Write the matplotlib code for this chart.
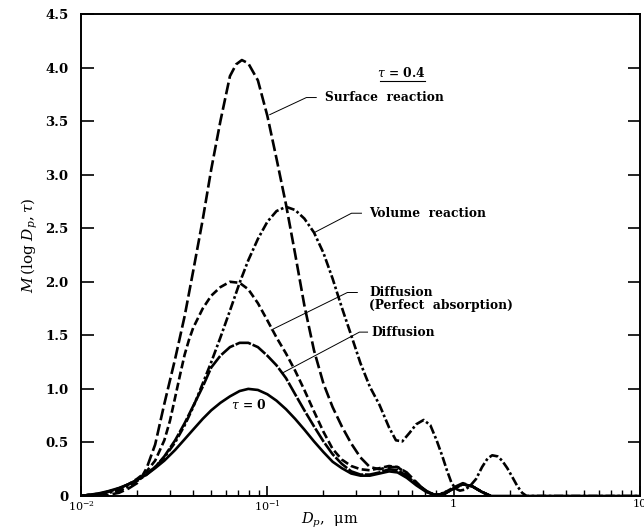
import matplotlib
matplotlib.use("Agg")
import matplotlib.pyplot as plt
from matplotlib.ticker import FixedLocator, NullFormatter

# ---------------- data ----------------
tau0_dp = [0.010, 0.011, 0.0125, 0.014, 0.016, 0.018, 0.020, 0.0225, 0.025, 0.028,
           0.032, 0.036, 0.040, 0.045, 0.050, 0.056, 0.063, 0.071, 0.079, 0.089,
           0.100, 0.112, 0.126, 0.141, 0.158, 0.178, 0.200, 0.224, 0.251, 0.282,
           0.316, 0.355, 0.40, 0.45, 0.50, 0.56, 0.63, 0.71, 0.79, 0.89,
           1.00, 1.12, 1.26, 1.41, 1.58, 10.0]
tau0_m = [0.00, 0.01, 0.025, 0.045, 0.075, 0.11, 0.15, 0.20, 0.26, 0.33,
          0.43, 0.53, 0.62, 0.72, 0.80, 0.87, 0.93, 0.98, 1.00, 0.99,
          0.95, 0.89, 0.81, 0.72, 0.62, 0.51, 0.41, 0.32, 0.26, 0.21,
          0.19, 0.19, 0.21, 0.23, 0.22, 0.17, 0.10, 0.04, 0.01, 0.02,
          0.07, 0.11, 0.09, 0.04, 0.00, 0.00]

diff_dp = [0.010, 0.011, 0.0125, 0.014, 0.016, 0.018, 0.020, 0.0225, 0.025, 0.028,
           0.032, 0.036, 0.040, 0.045, 0.050, 0.056, 0.063, 0.071, 0.079, 0.089,
           0.100, 0.112, 0.126, 0.141, 0.158, 0.178, 0.200, 0.224, 0.251, 0.282,
           0.316, 0.355, 0.40, 0.45, 0.50, 0.56, 0.63, 0.71, 0.79, 0.89,
           1.00, 1.12, 1.26, 1.41, 1.58]
diff_m = [0.00, 0.01, 0.02, 0.04, 0.07, 0.11, 0.15, 0.21, 0.27, 0.37,
          0.52, 0.68, 0.84, 1.02, 1.20, 1.31, 1.39, 1.43, 1.43, 1.39,
          1.31, 1.22, 1.10, 0.95, 0.80, 0.65, 0.51, 0.39, 0.30, 0.23,
          0.20, 0.20, 0.22, 0.25, 0.24, 0.19, 0.11, 0.05, 0.01, 0.02,
          0.07, 0.11, 0.09, 0.04, 0.00]

pa_dp = [0.010, 0.011, 0.0125, 0.014, 0.016, 0.018, 0.020, 0.0225, 0.025, 0.028,
         0.030, 0.032, 0.034, 0.036, 0.038, 0.040, 0.045, 0.050, 0.056, 0.063,
         0.071, 0.079, 0.089, 0.100, 0.112, 0.126, 0.141, 0.158, 0.178, 0.200,
         0.224, 0.251, 0.282, 0.316, 0.355, 0.40, 0.45, 0.50, 0.56, 0.63,
         0.71, 0.79, 0.89, 1.00, 1.12, 1.26, 1.41, 1.58]
pa_m = [0.00, 0.01, 0.02, 0.04, 0.07, 0.11, 0.16, 0.23, 0.33, 0.52,
        0.70, 0.92, 1.13, 1.32, 1.46, 1.57, 1.75, 1.87, 1.95, 2.00,
        1.99, 1.93, 1.80, 1.64, 1.48, 1.33, 1.17, 0.99, 0.79, 0.60,
        0.44, 0.34, 0.28, 0.25, 0.24, 0.26, 0.28, 0.27, 0.21, 0.12,
        0.05, 0.01, 0.02, 0.07, 0.11, 0.09, 0.04, 0.00]

surf_dp = [0.010, 0.012, 0.014, 0.016, 0.018, 0.020, 0.0212, 0.0225, 0.025, 0.028,
           0.032, 0.036, 0.040, 0.045, 0.050, 0.056, 0.063, 0.068, 0.073, 0.079,
           0.089, 0.100, 0.112, 0.126, 0.141, 0.158, 0.178, 0.200, 0.224, 0.251,
           0.282, 0.316, 0.355, 0.40, 0.45, 0.50, 0.56, 0.63, 0.71, 0.79,
           0.89, 1.00, 1.12, 1.26, 1.41, 1.58]
surf_m = [0.00, 0.00, 0.01, 0.03, 0.07, 0.12, 0.18, 0.26, 0.48, 0.86,
          1.28, 1.68, 2.10, 2.58, 3.05, 3.50, 3.92, 4.03, 4.07, 4.04,
          3.88, 3.55, 3.15, 2.72, 2.26, 1.78, 1.36, 1.05, 0.83, 0.65,
          0.49, 0.36, 0.27, 0.25, 0.27, 0.27, 0.22, 0.13, 0.04, 0.01,
          0.03, 0.08, 0.12, 0.09, 0.04, 0.00]

vol_dp = [0.010, 0.011, 0.0125, 0.014, 0.016, 0.018, 0.020, 0.0225, 0.025, 0.028,
          0.032, 0.036, 0.040, 0.045, 0.050, 0.056, 0.063, 0.071, 0.079, 0.089,
          0.100, 0.112, 0.126, 0.141, 0.158, 0.178, 0.200, 0.224, 0.251, 0.282,
          0.316, 0.355, 0.40, 0.45, 0.49, 0.53, 0.58, 0.63, 0.69, 0.75,
          0.81, 0.87, 0.92, 0.97, 1.02, 1.08, 1.15, 1.22, 1.32, 1.42,
          1.52, 1.61, 1.72, 1.82, 1.94, 2.06, 2.20, 2.33, 2.46, 10.0]
vol_m = [0.00, 0.01, 0.02, 0.03, 0.05, 0.09, 0.14, 0.20, 0.27, 0.36,
         0.50, 0.66, 0.83, 1.05, 1.25, 1.48, 1.73, 1.99, 2.20, 2.40,
         2.56, 2.66, 2.70, 2.67, 2.59, 2.46, 2.27, 2.03, 1.76, 1.50,
         1.24, 1.02, 0.85, 0.64, 0.52, 0.51, 0.59, 0.67, 0.71, 0.66,
         0.52, 0.37, 0.24, 0.13, 0.07, 0.05, 0.06, 0.09, 0.16, 0.27,
         0.35, 0.38, 0.37, 0.33, 0.26, 0.18, 0.09, 0.03, 0.00, 0.00]

y_ticks = [0, 0.5, 1.0, 1.5, 2.0, 2.5, 3.0, 3.5, 4.0, 4.5]
y_ticklabels = ["0", "0.5", "1.0", "1.5", "2.0", "2.5", "3.0", "3.5", "4.0", "4.5"]
x_ticks = [0.01, 0.1, 1, 10]
x_ticklabels = [r"$10^{-2}$", r"$10^{-1}$", "1", "10"]

# ---------------- figure ----------------
plt.rcParams["font.family"] = ["DejaVu Serif"]
plt.rcParams["mathtext.fontset"] = "dejavuserif"

fig = plt.figure(figsize=(6.44, 5.29), dpi=100)
ax = fig.add_axes([81 / 644, 1 - 496 / 529, (640 - 81) / 644, (496 - 14) / 529])

lw = 1.9
k = "black"
ax.plot(tau0_dp, tau0_m, color=k, lw=lw, solid_capstyle="round", solid_joinstyle="round")
ax.plot(diff_dp, diff_m, color=k, lw=lw, dashes=(6, 0.7))
ax.plot(pa_dp, pa_m, color=k, lw=lw, dashes=(3.0, 1.3))
ax.plot(surf_dp, surf_m, color=k, lw=lw, dashes=(4.5, 1.5))
ax.plot(vol_dp, vol_m, color=k, lw=lw, dashes=(3.5, 1.0, 1.0, 1.0))

ax.set_xscale("log")
ax.set_xlim(0.01, 10)
ax.set_ylim(0, 4.5)
ax.set_yticks(y_ticks)
ax.set_yticklabels(y_ticklabels)
ax.xaxis.set_major_locator(FixedLocator(x_ticks))
ax.set_xticklabels(x_ticklabels)
minors = [m * 10.0 ** e for e in (-2, -1, 0) for m in range(2, 10)]
ax.xaxis.set_minor_locator(FixedLocator(minors))
ax.xaxis.set_minor_formatter(NullFormatter())

ax.tick_params(axis="y", which="major", direction="in", length=9, width=1.2,
               right=True, labelsize=9.5, pad=9)
ax.tick_params(axis="x", which="major", direction="in", length=7, width=1.2,
               top=False, labelsize=8, pad=2)
ax.tick_params(axis="x", which="minor", direction="in", length=4, width=1.0, top=False)
for lab in ax.get_yticklabels():
    lab.set_fontweight("bold")
for s in ax.spines.values():
    s.set_linewidth(1.4)

ax.set_xlabel(r"$D_p$,  μm", fontsize=10.5)
ax.xaxis.set_label_coords((330 - 81) / 559, (496 - 520) / 482)
ax.xaxis.label.set_va("center")
ax.set_ylabel(r"$M\,(\log\,D_p,\tau)$", fontsize=11)
ax.yaxis.set_label_coords((30 - 81) / 559, 0.52)
ax.yaxis.label.set_va("center")

# ---------------- annotations ----------------
fs = 8.8
lead = dict(color=k, lw=0.7)
ax.text(0.524, 3.95, r"$\tau$ = 0.4", fontsize=fs, ha="center", va="center", weight="bold")
ax.plot([0.40, 0.70], [3.87, 3.87], color=k, lw=0.8)

ax.plot([0.103, 0.162, 0.183], [3.56, 3.72, 3.72], **lead)
ax.text(0.203, 3.72, "Surface  reaction", fontsize=fs, weight="bold", va="center")

ax.plot([0.179, 0.283, 0.32], [2.46, 2.64, 2.64], **lead)
ax.text(0.353, 2.64, "Volume  reaction", fontsize=fs, weight="bold", va="center")

ax.plot([0.105, 0.269, 0.304], [1.55, 1.90, 1.90], **lead)
ax.text(0.353, 1.84, "Diffusion\n(Perfect  absorption)", fontsize=fs, weight="bold",
        va="center", linespacing=1.05)

ax.plot([0.121, 0.312, 0.345], [1.15, 1.53, 1.53], **lead)
ax.text(0.36, 1.53, "Diffusion", fontsize=fs, weight="bold", va="center")

ax.text(0.0794, 0.85, r"$\tau$ = 0", fontsize=fs, ha="center", va="center", weight="bold")

fig.savefig("out.png", dpi=100)
